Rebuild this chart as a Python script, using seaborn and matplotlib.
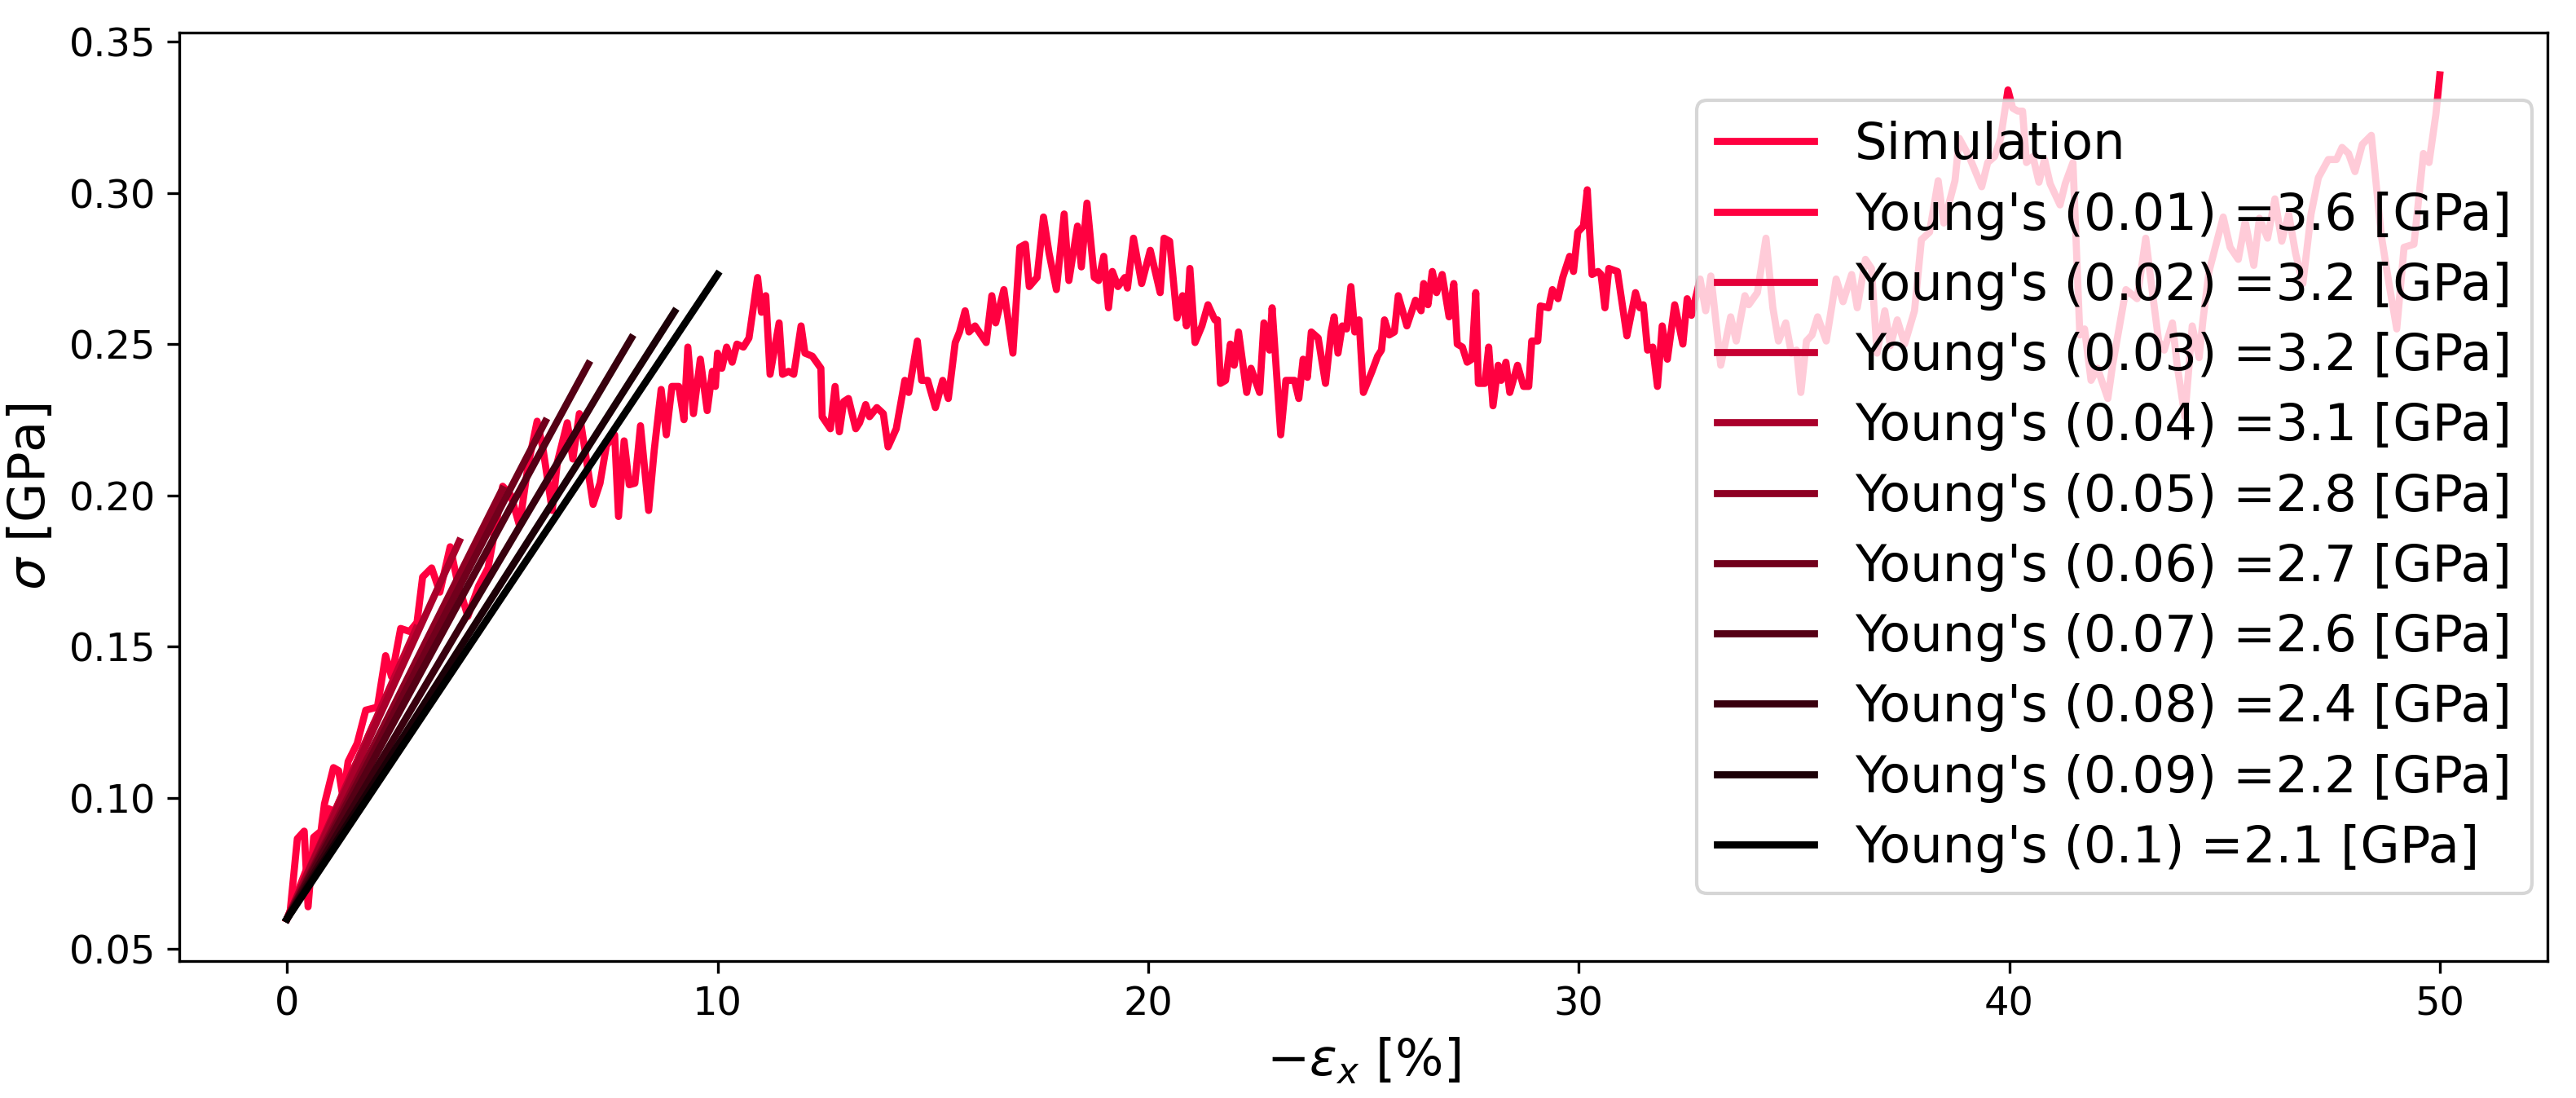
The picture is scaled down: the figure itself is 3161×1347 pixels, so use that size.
import numpy as np
import pandas as pd
import seaborn as sns
import matplotlib
matplotlib.use("Agg")
import matplotlib.pyplot as plt

# simulated stress-strain curve
strain_pct = [0.00, 0.07, 0.24, 0.40, 0.49, 0.62, 0.79, 0.87, 1.08, 1.20, 1.30, 1.42, 1.63, 1.83, 2.10, 2.29, 2.43,
              2.64, 2.85, 3.02, 3.15, 3.36, 3.55, 3.79, 3.95, 4.20, 4.45, 4.67, 4.85, 5.01, 5.20, 5.40, 5.60, 5.81,
              5.95, 6.16, 6.28, 6.51, 6.64, 6.79, 6.92, 7.11, 7.27, 7.42, 7.61, 7.70, 7.83, 7.95, 8.08, 8.21, 8.40,
              8.53, 8.69, 8.81, 8.94, 9.10, 9.22, 9.31, 9.44, 9.60, 9.76, 9.88, 9.95, 10.00, 10.10, 10.21, 10.34,
              10.45, 10.60, 10.73, 10.93, 11.02, 11.12, 11.22, 11.43, 11.51, 11.65, 11.77, 11.94, 12.03, 12.20,
              12.40, 12.43, 12.62, 12.73, 12.83, 12.93, 13.04, 13.21, 13.30, 13.44, 13.53, 13.70, 13.85, 13.96,
              14.15, 14.35, 14.44, 14.64, 14.74, 14.88, 15.06, 15.23, 15.36, 15.52, 15.62, 15.75, 15.84, 15.98,
              16.24, 16.37, 16.46, 16.65, 16.86, 17.02, 17.15, 17.24, 17.42, 17.57, 17.70, 17.87, 18.05, 18.16,
              18.36, 18.45, 18.58, 18.75, 18.85, 18.97, 19.08, 19.17, 19.30, 19.46, 19.52, 19.66, 19.85, 20.05,
              20.28, 20.37, 20.50, 20.67, 20.80, 20.89, 20.97, 21.09, 21.25, 21.39, 21.55, 21.61, 21.68, 21.80,
              21.91, 22.00, 22.10, 22.29, 22.39, 22.59, 22.69, 22.82, 22.88, 23.08, 23.20, 23.40, 23.50, 23.60,
              23.70, 23.79, 23.95, 24.12, 24.25, 24.32, 24.41, 24.51, 24.61, 24.71, 24.80, 24.90, 25.00, 25.20,
              25.33, 25.42, 25.49, 25.60, 25.72, 25.81, 26.01, 26.21, 26.34, 26.40, 26.50, 26.60, 26.70, 26.83,
              26.99, 27.10, 27.18, 27.30, 27.41, 27.52, 27.61, 27.67, 27.82, 27.91, 28.01, 28.13, 28.20, 28.31,
              28.40, 28.58, 28.72, 28.84, 28.91, 29.05, 29.11, 29.30, 29.39, 29.52, 29.63, 29.79, 29.88, 29.98,
              30.11, 30.20, 30.31, 30.45, 30.52, 30.61, 30.70, 30.90, 31.12, 31.32, 31.42, 31.50, 31.60, 31.72,
              31.83, 31.94, 32.06, 32.23, 32.42, 32.52, 32.62, 32.82, 32.95, 33.07, 33.30, 33.53, 33.66, 33.86,
              33.95, 34.15, 34.35, 34.51, 34.64, 34.81, 34.94, 35.06, 35.16, 35.29, 35.42, 35.55, 35.75, 35.98,
              36.14, 36.34, 36.47, 36.66, 36.80, 36.93, 37.11, 37.24, 37.40, 37.57, 37.80, 37.96, 38.15, 38.35,
              38.48, 38.74, 38.84, 39.07, 39.36, 39.50, 39.66, 39.80, 39.97, 40.08, 40.20, 40.31, 40.40, 40.55,
              40.69, 40.82, 40.95, 41.18, 41.30, 41.48, 41.64, 41.75, 41.90, 42.05, 42.29, 42.40, 42.71, 42.97,
              43.17, 43.30, 43.47, 43.60, 43.79, 43.90, 44.08, 44.25, 44.41, 44.50, 44.64, 44.97, 45.13, 45.32,
              45.48, 45.68, 45.81, 46.00, 46.17, 46.33, 46.49, 46.65, 46.82, 46.92, 47.01, 47.18, 47.41, 47.60,
              47.73, 47.88, 48.03, 48.20, 48.41, 48.64, 48.82, 49.00, 49.17, 49.40, 49.62, 49.75, 49.91, 50.00]
stress_gpa = [0.060, 0.062, 0.0865, 0.089, 0.064, 0.087, 0.089, 0.098, 0.110, 0.109, 0.100, 0.112, 0.118, 0.129,
              0.130, 0.147, 0.140, 0.156, 0.155, 0.158, 0.173, 0.176, 0.168, 0.183, 0.172, 0.160, 0.170, 0.176,
              0.190, 0.203, 0.200, 0.190, 0.210, 0.2245, 0.215, 0.195, 0.211, 0.224, 0.212, 0.227, 0.215, 0.197,
              0.204, 0.2165, 0.220, 0.193, 0.218, 0.2035, 0.204, 0.223, 0.195, 0.215, 0.235, 0.220, 0.236, 0.236,
              0.225, 0.249, 0.227, 0.245, 0.228, 0.241, 0.236, 0.247, 0.242, 0.249, 0.244, 0.250, 0.249, 0.252,
              0.272, 0.2605, 0.266, 0.240, 0.257, 0.240, 0.241, 0.240, 0.256, 0.247, 0.246, 0.242, 0.226, 0.222,
              0.236, 0.221, 0.231, 0.232, 0.222, 0.224, 0.230, 0.226, 0.229, 0.227, 0.216, 0.222, 0.238, 0.234,
              0.251, 0.238, 0.238, 0.229, 0.238, 0.232, 0.2505, 0.254, 0.261, 0.254, 0.256, 0.2505, 0.266, 0.257,
              0.268, 0.247, 0.282, 0.283, 0.269, 0.272, 0.292, 0.280, 0.268, 0.293, 0.271, 0.289, 0.2755, 0.2966,
              0.272, 0.271, 0.279, 0.262, 0.274, 0.269, 0.272, 0.2685, 0.285, 0.270, 0.281, 0.267, 0.285, 0.284,
              0.2586, 0.266, 0.256, 0.275, 0.2505, 0.256, 0.263, 0.258, 0.258, 0.237, 0.238, 0.250, 0.243, 0.254,
              0.234, 0.242, 0.234, 0.257, 0.248, 0.262, 0.220, 0.238, 0.238, 0.232, 0.245, 0.239, 0.254, 0.252,
              0.237, 0.254, 0.259, 0.247, 0.256, 0.255, 0.269, 0.254, 0.258, 0.234, 0.241, 0.246, 0.248, 0.258,
              0.253, 0.254, 0.266, 0.256, 0.2645, 0.261, 0.270, 0.263, 0.274, 0.267, 0.273, 0.259, 0.270, 0.250,
              0.249, 0.244, 0.245, 0.267, 0.237, 0.237, 0.249, 0.2296, 0.243, 0.238, 0.244, 0.234, 0.243, 0.236,
              0.236, 0.251, 0.251, 0.2626, 0.262, 0.268, 0.265, 0.272, 0.279, 0.274, 0.287, 0.289, 0.301, 0.273,
              0.274, 0.273, 0.262, 0.275, 0.274, 0.2527, 0.267, 0.262, 0.263, 0.248, 0.249, 0.236, 0.256, 0.245,
              0.263, 0.250, 0.265, 0.2595, 0.2715, 0.261, 0.2725, 0.243, 0.259, 0.251, 0.266, 0.263, 0.267, 0.285,
              0.262, 0.251, 0.257, 0.247, 0.248, 0.234, 0.251, 0.253, 0.259, 0.251, 0.2715, 0.264, 0.273, 0.262,
              0.278, 0.275, 0.247, 0.261, 0.2495, 0.258, 0.250, 0.261, 0.2845, 0.287, 0.304, 0.290, 0.304, 0.318,
              0.312, 0.302, 0.310, 0.312, 0.318, 0.334, 0.328, 0.327, 0.327, 0.310, 0.312, 0.3035, 0.311, 0.303,
              0.296, 0.303, 0.310, 0.253, 0.255, 0.238, 0.242, 0.232, 0.243, 0.268, 0.265, 0.285, 0.270, 0.251,
              0.248, 0.257, 0.243, 0.226, 0.256, 0.2455, 0.258, 0.274, 0.292, 0.282, 0.278, 0.2905, 0.276, 0.2916,
              0.285, 0.298, 0.284, 0.293, 0.280, 0.270, 0.282, 0.293, 0.305, 0.311, 0.311, 0.315, 0.313, 0.307,
              0.316, 0.319, 0.286, 0.270, 0.255, 0.282, 0.283, 0.313, 0.310, 0.326, 0.339]

# linear fits: strain limit of the fit and fitted modulus [GPa]
fit_limits = [0.01, 0.02, 0.03, 0.04, 0.05, 0.06, 0.07, 0.08, 0.09, 0.1]
moduli = [3.62, 3.2, 3.2, 3.12, 2.84, 2.74, 2.62, 2.4, 2.23, 2.13]

sim = pd.DataFrame({"strain": strain_pct, "stress": stress_gpa})
base = np.array([1.0, 0.0, 0.25])
shades = np.linspace(1.0, 0.0, len(fit_limits))

fig, ax = plt.subplots(figsize=(10.54, 4.49), dpi=300)
fig.subplots_adjust(left=0.0696, right=0.9886, top=0.9703, bottom=0.1247)

sns.lineplot(data=sim, x="strain", y="stress", color="#ff0040", lw=2.1, label="Simulation", ax=ax)

s0 = stress_gpa[0]
for lim, E, sh in zip(fit_limits, moduli, shades):
    fit = pd.DataFrame({"strain": [0, lim * 100], "stress": [s0, s0 + E * lim]})
    sns.lineplot(data=fit, x="strain", y="stress", color=tuple(base * sh), lw=2.1,
                 label="Young's (" + str(lim) + ") =" + format(E, ".1f") + " [GPa]", ax=ax)

ax.set_xlabel(r"$-\varepsilon_x$ [%]", fontsize=15)
ax.set_ylabel(r"$\sigma$ [GPa]", fontsize=15)
ax.tick_params(labelsize=11.5)
ax.legend(loc="center right", fontsize=15, borderaxespad=0.3, labelspacing=0.42,
          handlelength=1.9, handletextpad=0.8)

fig.savefig("out.png", dpi=300)
